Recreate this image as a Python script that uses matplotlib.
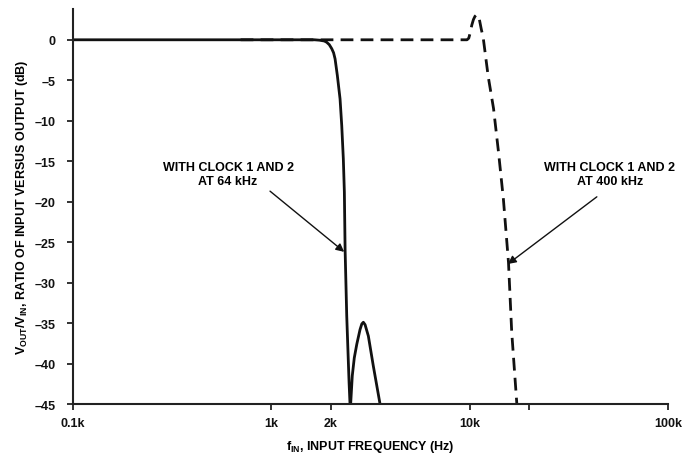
"""Switched-capacitor low-pass response for two clock rates."""

import matplotlib

matplotlib.use("Agg")
import matplotlib.pyplot as plt
from matplotlib.axes import Axes

# Clock 1 and 2 at 64 kHz (solid), including the stop-band bump
FREQ_64K = [100, 1000, 1650, 1750, 1850, 1901, 1960, 2017, 2060, 2096, 2152,
            2221, 2265, 2307, 2335, 2355, 2400, 2466, 2493,
            2512, 2560, 2620, 2698, 2801, 2860, 2911, 2970, 3085, 3268, 3533]
DB_64K = [0, 0, 0, -0.05, -0.15, -0.3, -0.6, -1.1, -1.6, -2.35, -4.4,
          -7.3, -10.6, -14.7, -18.8, -25.9, -34.1, -42.3, -45,
          -45, -41.5, -39.3, -37.6, -35.8, -35.1, -34.9, -35.2, -36.6, -40.3, -45]

# Clock 1 and 2 at 400 kHz (dashed)
FREQ_400K = [700, 2000, 5000, 9700, 9900, 10100, 10250, 10450, 10640, 10850,
             11000, 11200, 11450, 11700, 12400, 13200, 14000, 14800, 15700,
             16300, 17300]
DB_400K = [0, 0, 0, 0, 0.2, 1.0, 1.8, 2.5, 2.9, 3.1,
           3.0, 2.5, 1.3, 0.3, -4.5, -8.5, -14, -19.7, -27.5,
           -36.1, -45]

XTICKS = [100, 1000, 2000, 10000, 20000, 100000]
XTICK_LABELS = ["0.1k", "1k", "2k", "10k", "", "100k"]
YTICKS = [0, -5, -10, -15, -20, -25, -30, -35, -40, -45]

plt.rcParams["font.family"] = ["Liberation Sans", "DejaVu Sans"]
plt.rcParams["font.weight"] = "bold"
plt.rcParams["axes.labelweight"] = "bold"
plt.rcParams["mathtext.fontset"] = "custom"
plt.rcParams["mathtext.rm"] = "Liberation Sans:bold"
plt.rcParams["mathtext.bf"] = "Liberation Sans:bold"
plt.rcParams["mathtext.default"] = "bf"


def plot():
    fig = plt.figure(figsize=(6.85, 4.56), dpi=100)
    ax: Axes = fig.add_axes([0.1066, 0.1118, 0.8685, 0.8662])

    ax.plot(FREQ_400K, DB_400K, color="#111111", lw=2.0, dashes=(4.6, 2.6),
            solid_joinstyle="round")
    ax.plot(FREQ_64K, DB_64K, color="#111111", lw=2.0, solid_joinstyle="round")

    ax.set_xscale("log")
    ax.set_xlim(100, 100000)
    ax.set_ylim(-45, 3.8)
    ax.set_xticks(XTICKS)
    ax.set_xticklabels(XTICK_LABELS)
    ax.minorticks_off()
    ax.set_yticks(YTICKS)
    ax.set_yticklabels(["0"] + [f"\u2013{-v}" for v in YTICKS[1:]])

    for side in ("top", "right"):
        ax.spines[side].set_visible(False)
    for side in ("left", "bottom"):
        ax.spines[side].set_linewidth(1.5)
        ax.spines[side].set_color("#222222")
    ax.tick_params(axis="both", direction="out", length=4.5, width=1.2,
                   labelsize=9, colors="#111111")
    ax.tick_params(axis="y", pad=8)
    ax.tick_params(axis="x", pad=5)

    ax.set_ylabel(r"V$_\mathregular{OUT}$/V$_\mathregular{IN}$, RATIO OF INPUT VERSUS OUTPUT (dB)",
                  fontsize=9, fontweight="bold", labelpad=3)
    ax.set_xlabel(r"f$_\mathregular{IN}$, INPUT FREQUENCY (Hz)", fontsize=9,
                  fontweight="bold", labelpad=6)

    ax.text(605, -16.6, "WITH CLOCK 1 AND 2\nAT 64 kHz", ha="center", va="center",
            fontsize=9, fontweight="bold", linespacing=1.2)
    ax.annotate("", xy=(2330, -26.2), xytext=(985, -18.7),
                arrowprops=dict(arrowstyle="-|>", lw=1.0, color="#111111",
                                mutation_scale=12, shrinkA=0, shrinkB=0))

    ax.text(51000, -16.6, "WITH CLOCK 1 AND 2\nAT 400 kHz", ha="center", va="center",
            fontsize=9, fontweight="bold", linespacing=1.2)
    ax.annotate("", xy=(15600, -27.7), xytext=(43800, -19.4),
                arrowprops=dict(arrowstyle="-|>", lw=1.0, color="#111111",
                                mutation_scale=12, shrinkA=0, shrinkB=0))

    return fig, ax


def main():
    fig, _ = plot()
    fig.savefig("out.png", dpi=100)


if __name__ == "__main__":
    main()
